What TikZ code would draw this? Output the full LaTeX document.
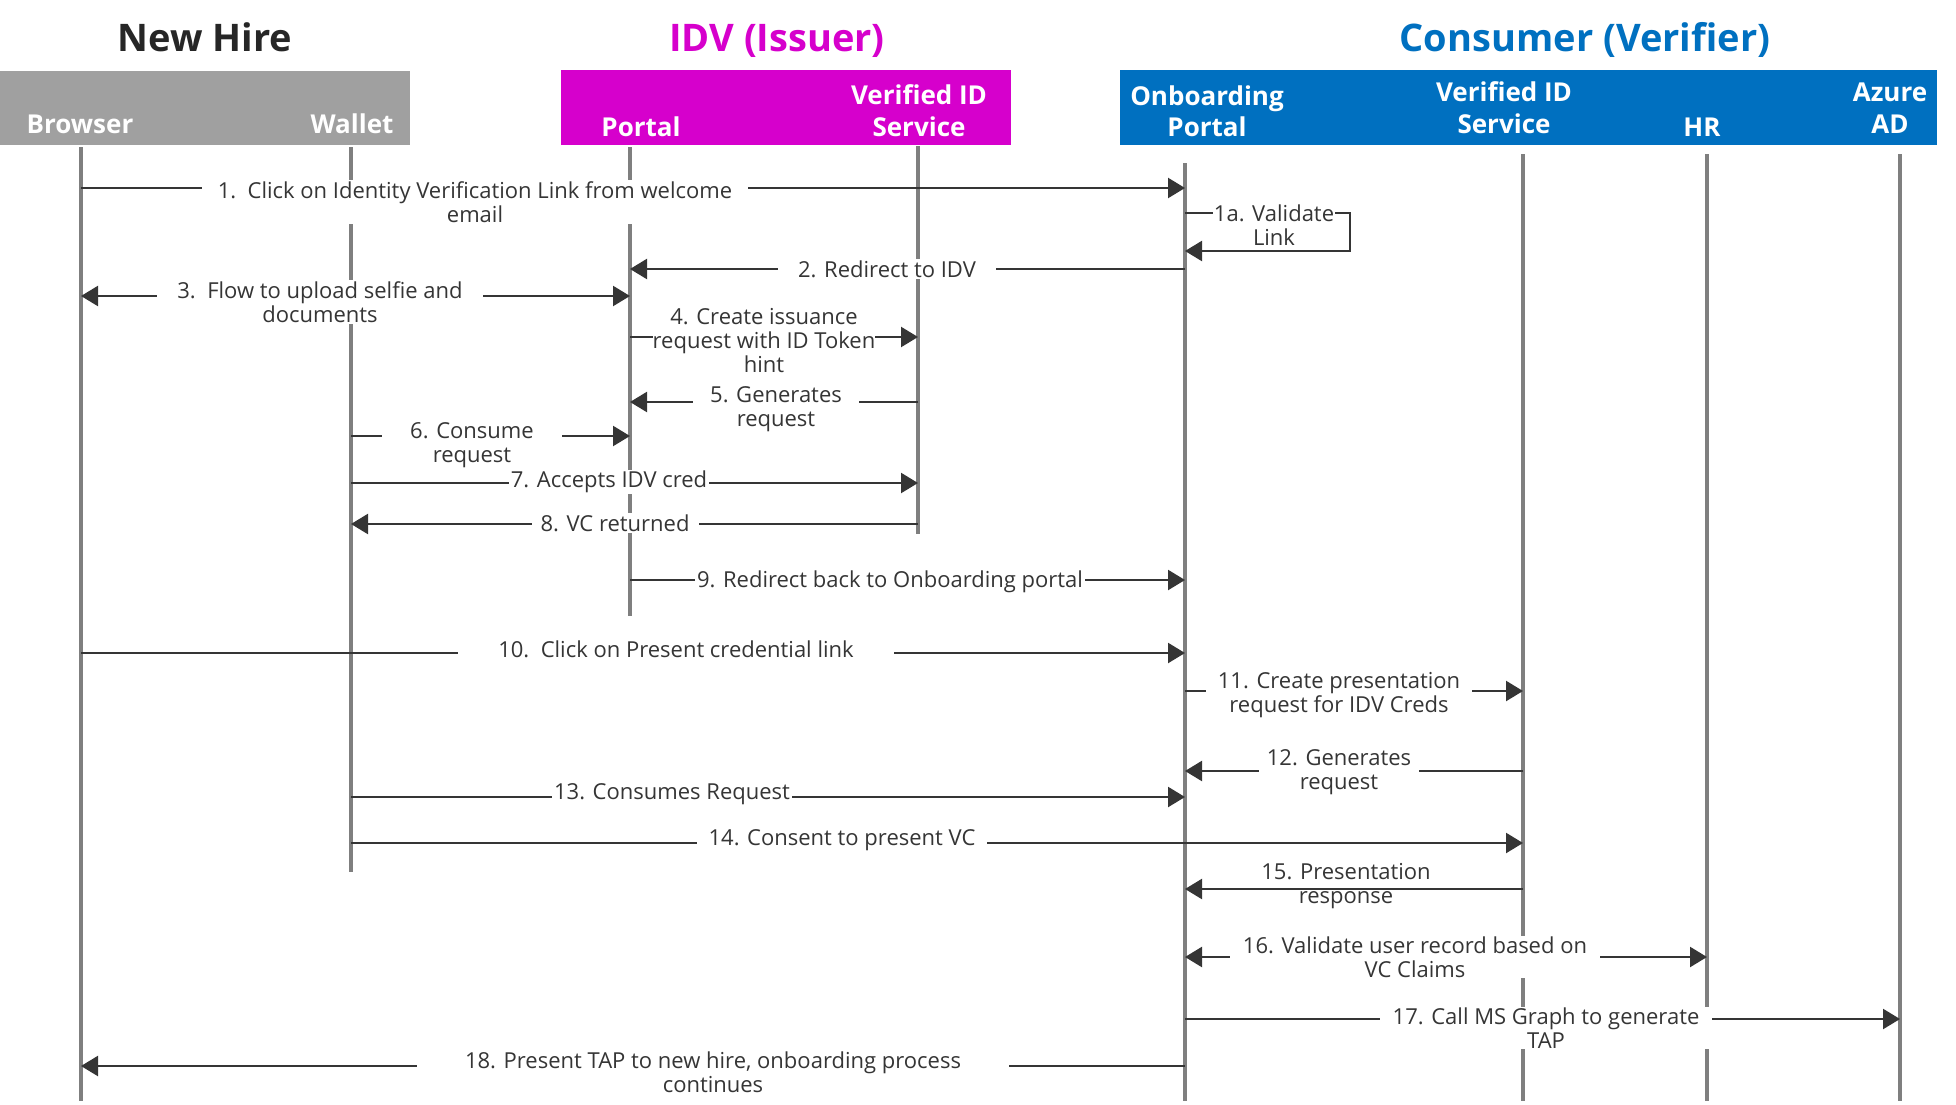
\documentclass[tikz,border=0pt]{standalone}
\usepackage{fontspec}
\setmainfont{Open Sans}
\usetikzlibrary{arrows.meta}
\definecolor{titledark}{HTML}{262626}
\definecolor{hiregray}{HTML}{A0A0A0}
\definecolor{idvpink}{HTML}{D600CC}
\definecolor{conblue}{HTML}{0070C0}
\definecolor{lifegray}{HTML}{7F7F7F}
\definecolor{msgdark}{HTML}{353535}
\tikzstyle{life}=[lifegray,line width=4.5pt]
\tikzstyle{msg}=[msgdark,line width=2.3pt,-{Triangle[length=17pt,width=20pt]}]
\tikzstyle{msgboth}=[msg,{Triangle[length=17pt,width=20pt]}-{Triangle[length=17pt,width=20pt]}]
\tikzstyle{lbl}=[fill=white,text=msgdark,font=\fontsize{22}{24}\selectfont,align=center,inner xsep=16pt,inner ysep=1pt]
\tikzstyle{hdr}=[text=white,font=\fontsize{26}{32}\selectfont\bfseries,align=center,inner sep=0pt]
\tikzstyle{ttl}=[font=\fontsize{38}{44}\selectfont\bfseries,inner sep=0pt]

\begin{document}
\begin{tikzpicture}[x=1pt,y=-1pt]
\useasboundingbox (0,0) rectangle (1956,1105);

\node[ttl,text=titledark,anchor=base] (tnew) at (205,52) {New Hire};
\node[ttl,text=idvpink,anchor=base] (tidv) at (777,52) {IDV (Issuer)};
\node[ttl,text=conblue,anchor=base] (tcon) at (1585,52) {Consumer (Verifier)};

\fill[hiregray] (0,71) rectangle (410,145);
\fill[idvpink] (561,70) rectangle (1011,145);
\fill[conblue] (1120,70) rectangle (1937,145);

\node[hdr,anchor=base] (hbr) at (80,133) {Browser};
\node[hdr,anchor=base] (hwa) at (352,133) {Wallet};
\node[hdr,anchor=base] (hpo) at (641,137) {Portal};
\node[hdr,anchor=base] (hvi) at (919,136) {Verified ID\\Service};
\node[hdr,anchor=base] (hon) at (1207,137) {Onboarding\\Portal};
\node[hdr,anchor=base] (hvc) at (1504,133) {Verified ID\\Service};
\node[hdr,anchor=base] (hhr) at (1702,137) {HR};
\node[hdr,anchor=base] (haz) at (1890,133) {Azure\\AD};

\coordinate (brT) at (81,147);   \coordinate (brB) at (81,1101);
\coordinate (waT) at (351,147);  \coordinate (waB) at (351,872);
\coordinate (poT) at (630,147);  \coordinate (poB) at (630,616);
\coordinate (viT) at (918,146);  \coordinate (viB) at (918,534);
\coordinate (onT) at (1185,163); \coordinate (onB) at (1185,1101);
\coordinate (vcT) at (1523,154); \coordinate (vcB) at (1523,1101);
\coordinate (hrT) at (1707,154); \coordinate (hrB) at (1707,1101);
\coordinate (azT) at (1900,154); \coordinate (azB) at (1900,1101);

\draw[life]
    (brT) -- (brB)
    (waT) -- (waB)
    (poT) -- (poB)
    (viT) -- (viB)
    (onT) -- (onB)
    (vcT) -- (vcB)
    (hrT) -- (hrB)
    (azT) -- (azB);

\coordinate (m1) at (0,188);
\coordinate (m1a) at (0,213);
\coordinate (m1b) at (0,251);
\coordinate (loopA) at (1350,213);
\coordinate (loopB) at (1350,251);
\coordinate (m2) at (0,269);
\coordinate (m3) at (0,296);
\coordinate (m4) at (0,337);
\coordinate (m5) at (0,402);
\coordinate (m6) at (0,436);
\coordinate (m7) at (0,483);
\coordinate (m8) at (0,524);
\coordinate (m9) at (0,580);
\coordinate (m10) at (0,653);
\coordinate (m11) at (0,691);
\coordinate (m12) at (0,771);
\coordinate (m13) at (0,797);
\coordinate (m14) at (0,843);
\coordinate (m15) at (0,889);
\coordinate (m16) at (0,957);
\coordinate (m17) at (0,1019);
\coordinate (m18) at (0,1066);

\draw[msg] (brT |- m1) -- (onT |- m1);
\draw[msg] (onT |- m1a) -- (loopA) -- (loopB) -- (onT |- m1b);
\draw[msg] (onT |- m2) -- (poT |- m2);
\draw[msgboth] (brT |- m3) -- (poT |- m3);
\draw[msg] (poT |- m4) -- (viT |- m4);
\draw[msg] (viT |- m5) -- (poT |- m5);
\draw[msg] (waT |- m6) -- (poT |- m6);
\draw[msg] (waT |- m7) -- (viT |- m7);
\draw[msg] (viT |- m8) -- (waT |- m8);
\draw[msg] (poT |- m9) -- (onT |- m9);
\draw[msg] (brT |- m10) -- (onT |- m10);
\draw[msg] (onT |- m11) -- (vcT |- m11);
\draw[msg] (vcT |- m12) -- (onT |- m12);
\draw[msg] (waT |- m13) -- (onT |- m13);
\draw[msg] (waT |- m14) -- (vcT |- m14);
\draw[msg] (vcT |- m15) -- (onT |- m15);
\draw[msgboth] (onT |- m16) -- (hrT |- m16);
\draw[msg] (onT |- m17) -- (azT |- m17);
\draw[msg] (onT |- m18) -- (brT |- m18);

\node[lbl] (l1) at (475,202) {1.\ \ Click on Identity Verification Link from welcome\\email};
\node[lbl,inner xsep=1pt] (l1a) at (1274,225) {1a. Validate\\Link};
\node[lbl,inner xsep=20pt] (l2) at (887,269) {2. Redirect to IDV};
\node[lbl,inner xsep=20pt] (l3) at (320,302) {3.\ \ Flow to upload selfie and\\documents};
\node[lbl,inner xsep=0pt] (l4) at (764,341) {4. Create issuance\\request with ID Token\\hint};
\node[lbl,inner xsep=17pt] (l5) at (776,409) {5. Generates\\request};
\node[lbl,inner xsep=28pt] (l6) at (472,445) {6. Consume\\request};
\node[lbl,inner xsep=2pt] (l7) at (609,482) {7. Accepts IDV cred};
\node[lbl,inner xsep=9pt] (l8) at (615,523) {8. VC returned};
\node[lbl,inner xsep=2pt] (l9) at (890,582) {9. Redirect back to Onboarding portal};
\node[lbl,inner xsep=40pt] (l10) at (676,649) {10.\ \ Click on Present credential link};
\node[lbl,inner xsep=12pt] (l11) at (1339,695) {11. Create presentation\\request for IDV Creds};
\node[lbl,inner xsep=8pt] (l12) at (1339,772) {12. Generates\\request};
\node[lbl,inner xsep=2pt] (l13) at (672,794) {13. Consumes Request};
\node[lbl,inner xsep=12pt] (l14) at (842,840) {14. Consent to present VC};
\node[lbl,fill=none] (l15) at (1346,886) {15. Presentation\\response};
\node[lbl,inner xsep=13pt] (l16) at (1415,957) {16. Validate user record based on\\VC Claims};
\node[lbl,inner xsep=13pt] (l17) at (1546,1028) {17. Call MS Graph to generate\\TAP};
\node[lbl,inner xsep=48pt] (l18) at (713,1072) {18. Present TAP to new hire, onboarding process\\continues};
\end{tikzpicture}
\end{document}
